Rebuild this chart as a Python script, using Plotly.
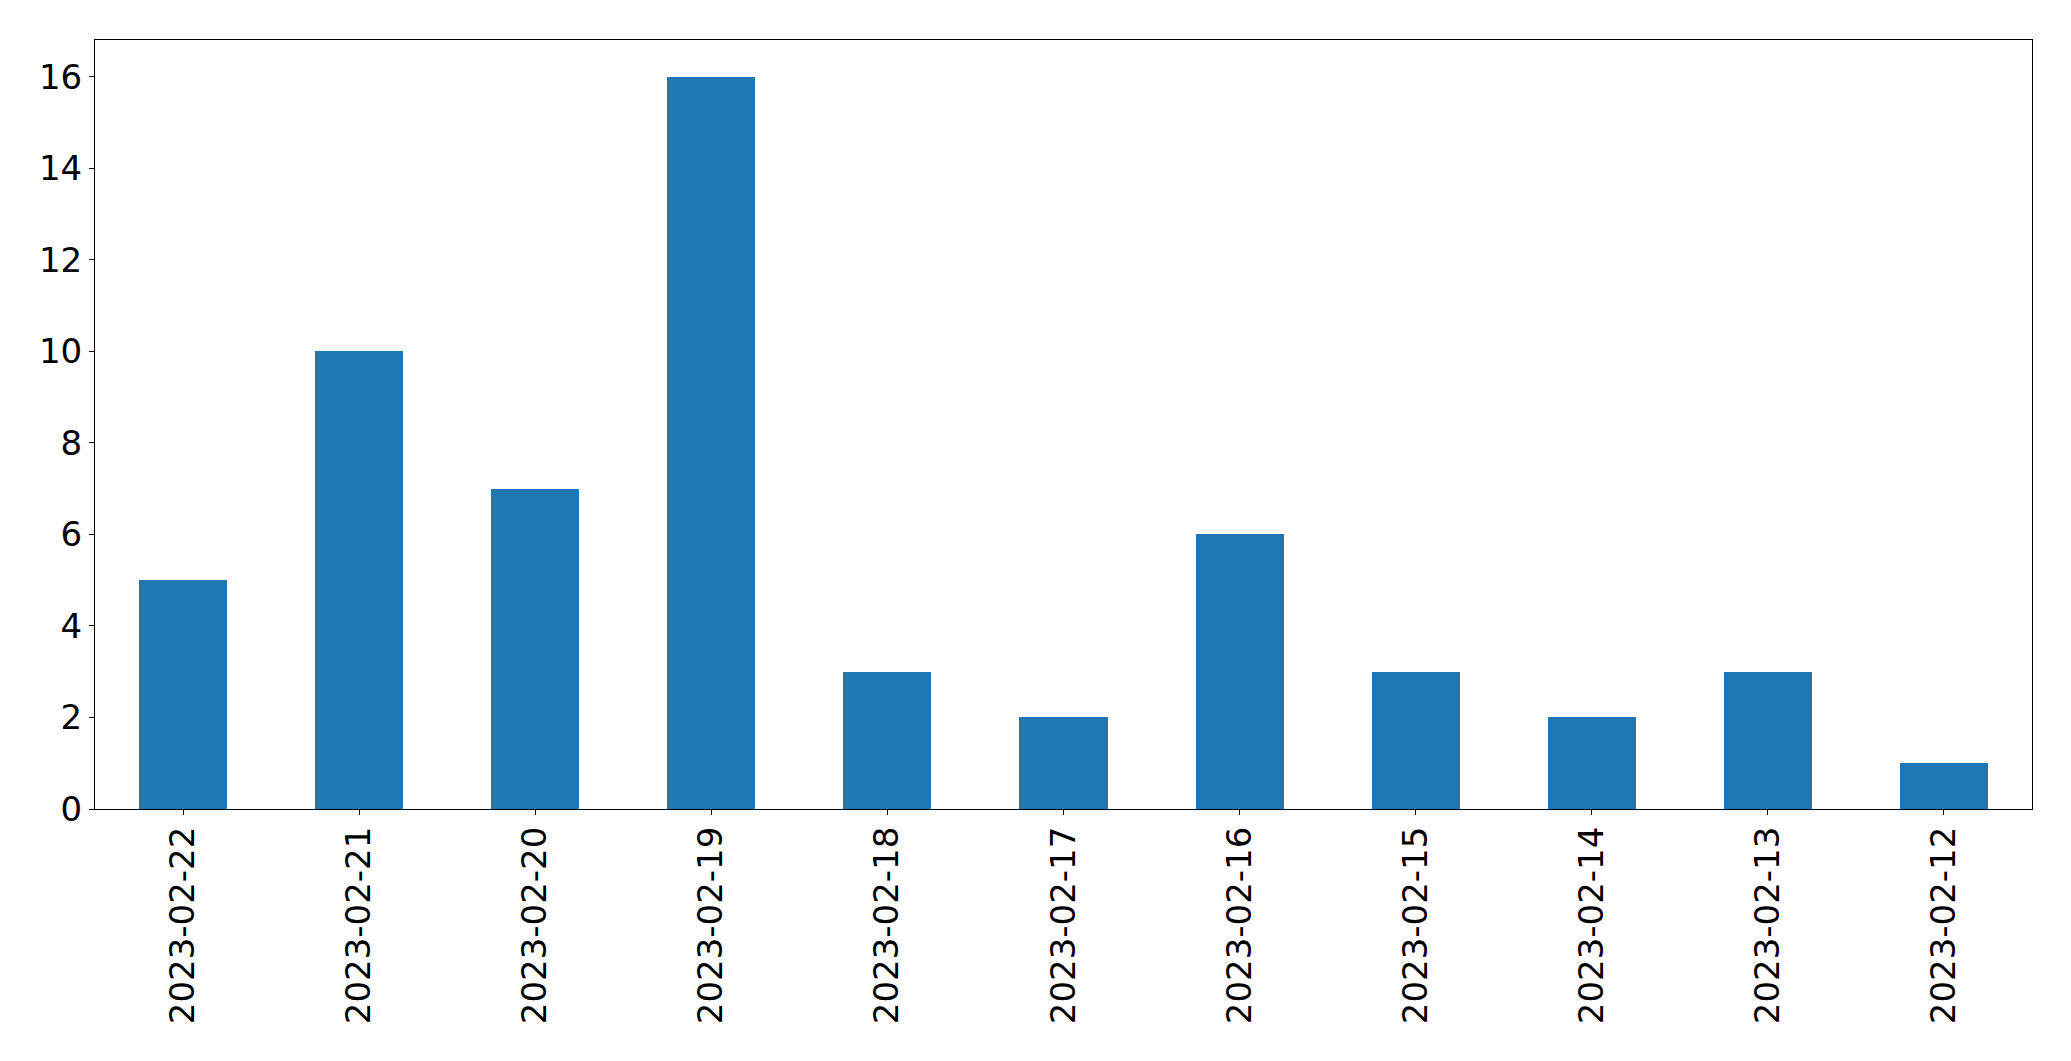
import plotly.graph_objects as go

dates = ["2023-02-22", "2023-02-21", "2023-02-20", "2023-02-19", "2023-02-18",
         "2023-02-17", "2023-02-16", "2023-02-15", "2023-02-14", "2023-02-13", "2023-02-12"]
counts = [5, 10, 7, 16, 3, 2, 6, 3, 2, 3, 1]
y_ticks = [0, 2, 4, 6, 8, 10, 12, 14, 16]

W, H = 2071, 1061
fig = go.Figure(go.Bar(x=dates, y=counts, width=0.5, marker=dict(color="#1f77b4", line=dict(width=0))))

axis_common = dict(showline=True, linecolor="black", linewidth=1.1, mirror=True,
                   ticks="outside", ticklen=5, tickwidth=1.1, tickcolor="black",
                   showgrid=False, zeroline=False)
fig.update_layout(
    width=W, height=H,
    margin=dict(l=94.5, r=38.7, t=39.5, b=252),
    paper_bgcolor="white", plot_bgcolor="white",
    font=dict(family="DejaVu Sans", size=34, color="black"),
    showlegend=False,
    bargap=0,
)
fig.update_xaxes(type="category", range=[-0.5, 10.5], tickangle=-90, ticklabelstandoff=-2, **axis_common)
fig.update_yaxes(range=[0, 16.8], tickvals=y_ticks, **axis_common)
fig.write_html("out.html", config={"displayModeBar": False},
               post_script="document.body.style.margin='0';document.body.style.overflow='hidden';")
